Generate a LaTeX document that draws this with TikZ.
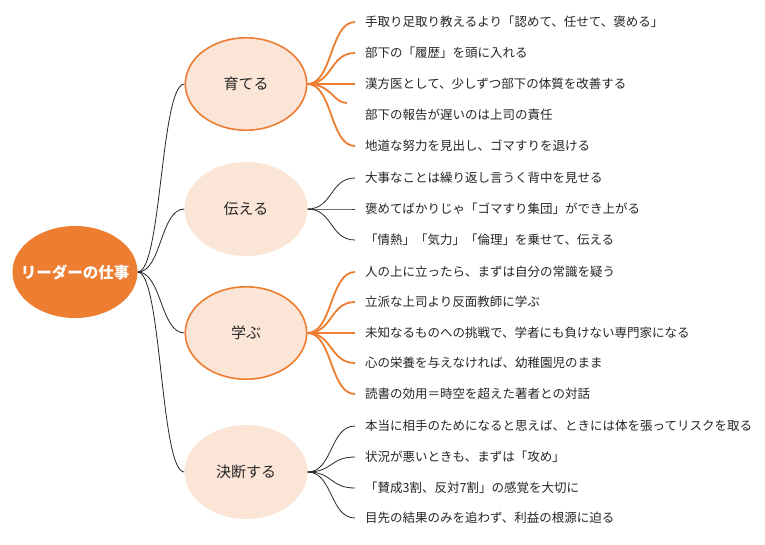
\documentclass[tikz,border=0pt]{standalone}
\usepackage{fontspec}
\setmainfont{Noto Sans CJK JP}
\usetikzlibrary{shapes.geometric}
\definecolor{acc}{HTML}{ED7D31}
\definecolor{lite}{HTML}{FBE5D6}
\definecolor{txt}{HTML}{262626}
\begin{document}
\begin{tikzpicture}[x=1pt,y=-1pt,
  rootnode/.style={ellipse, fill=acc, minimum width=125pt, minimum height=92pt, inner sep=0pt, text=white, font=\fontsize{15.5}{18}\selectfont\bfseries},
  branch/.style={ellipse, fill=lite, minimum width=123pt, minimum height=94pt, inner sep=0pt, text=txt, font=\fontsize{15}{18}\selectfont},
  hot/.style={draw=acc, line width=1.6pt, minimum width=121.4pt, minimum height=92.4pt},
  leaf/.style={anchor=west, inner xsep=10pt, inner ysep=0pt, text height=0.9em, text depth=0.1em, font=\fontsize{12.5}{15}\selectfont, text=txt},
  blink/.style={draw=black!85, line width=0.8pt},
  olink/.style={draw=acc, line width=1.8pt}]
\useasboundingbox (0,0) rectangle (765,544);
\fill[white] (0,0) rectangle (765,544);

\node[rootnode] (root) at (75,272) {\makebox[0pt]{リーダーの仕事}};
\node[branch,hot] (b1) at (246,84) {育てる};
\node[branch] (b2) at (246,209) {伝える};
\node[branch,hot] (b3) at (246,333) {学ぶ};
\node[branch] (b4) at (246,472) {決断する};

\node[leaf] (l11) at (355,22) {手取り足取り教えるより「認めて、任せて、褒める」};
\node[leaf] (l12) at (355,53) {部下の「履歴」を頭に入れる};
\node[leaf] (l13) at (355,84) {漢方医として、少しずつ部下の体質を改善する};
\node[leaf] (l14) at (355,115) {部下の報告が遅いのは上司の責任};
\node[leaf] (l15) at (355,146) {地道な努力を見出し、ゴマすりを退ける};

\node[leaf] (l21) at (355,178) {大事なことは繰り返し言うく背中を見せる};
\node[leaf] (l22) at (355,209) {褒めてばかりじゃ「ゴマすり集団」ができ上がる};
\node[leaf] (l23) at (355,240) {「情熱」「気力」「倫理」を乗せて、伝える};

\node[leaf] (l31) at (355,272) {人の上に立ったら、まずは自分の常識を疑う};
\node[leaf] (l32) at (355,302) {立派な上司より反面教師に学ぶ};
\node[leaf] (l33) at (355,333) {未知なるものへの挑戦で、学者にも負けない専門家になる};
\node[leaf] (l34) at (355,363) {心の栄養を与えなければ、幼稚園児のまま};
\node[leaf] (l35) at (355,394) {読書の効用＝時空を超えた著者との対話};

\node[leaf] (l41) at (355,426) {本当に相手のためになると思えば、ときには体を張ってリスクを取る};
\node[leaf] (l42) at (355,457) {状況が悪いときも、まずは「攻め」};
\node[leaf] (l43) at (355,488) {「賛成3割、反対7割」の感覚を大切に};
\node[leaf] (l44) at (355,518) {目先の結果のみを追わず、利益の根源に迫る};

\coordinate (t14) at (347,103);

\foreach \b in {b1,b2,b3,b4}
  \draw[blink] (root.east) .. controls +(24,0) and +(-24,0) .. (\b.west);

\foreach \l in {l11,l12,l13,l15}
  \draw[olink] (b1.east) .. controls +(25,0) and +(-25,0) .. (\l.west);
\draw[olink] (b1.east) .. controls +(24,0) and +(-14,0) .. (t14);

\foreach \l in {l21,l22,l23}
  \draw[blink] (b2.east) .. controls +(25,0) and +(-25,0) .. (\l.west);

\foreach \l in {l31,l32,l33,l34,l35}
  \draw[olink] (b3.east) .. controls +(25,0) and +(-25,0) .. (\l.west);

\foreach \l in {l41,l42,l43,l44}
  \draw[blink] (b4.east) .. controls +(25,0) and +(-25,0) .. (\l.west);
\end{tikzpicture}
\end{document}
